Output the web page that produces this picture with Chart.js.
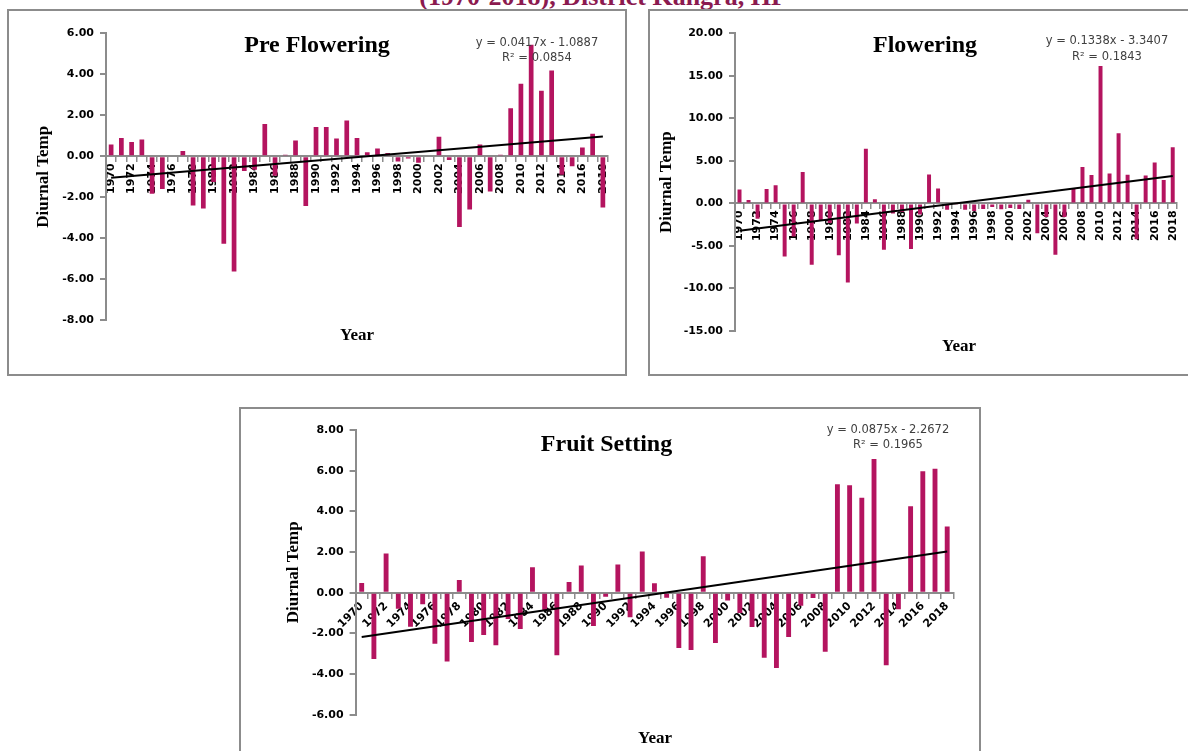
<!DOCTYPE html>
<html>
<head>
<meta charset="utf-8">
<script src="https://cdn.jsdelivr.net/npm/chart.js@4.4.0/dist/chart.umd.min.js"></script>
<style>
  html, body { margin: 0; padding: 0; background: #fff; }
  body { position: relative; width: 1188px; height: 751px; overflow: hidden; }
  .hdr { position: absolute; left: 0; top: -16px; width: 1206px; text-align: center;
         font-family: "Liberation Serif", serif; font-weight: bold; font-size: 26px; line-height: 26px;
         color: #8b1a4f; white-space: nowrap; }
  .box { position: absolute; box-sizing: border-box; border: 2px solid #8c8c8c; background: #fff; }
  canvas { position: absolute; }
</style>
</head>
<body>
<div class="hdr">(1970-2018), District Kangra, HP</div>
<div class="box" style="left:7px;top:9px;width:620px;height:367px"></div>
<div class="box" style="left:648px;top:9px;width:542px;height:367px"></div>
<div class="box" style="left:239px;top:407px;width:742px;height:360px"></div>
<canvas id="c1" width="619" height="365" style="left:7px;top:10px"></canvas>
<canvas id="c2" width="540" height="365" style="left:648px;top:10px"></canvas>
<canvas id="c3" width="740" height="343" style="left:240px;top:408px"></canvas>
<script>
// ---------- DATA ----------
const years = ['1970','1971','1972','1973','1974','1975','1976','1977','1978','1979',
               '1980','1981','1982','1983','1984','1985','1986','1987','1988','1989',
               '1990','1991','1992','1993','1994','1995','1996','1997','1998','1999',
               '2000','2001','2002','2003','2004','2005','2006','2007','2008','2009',
               '2010','2011','2012','2013','2014','2015','2016','2017','2018'];

const preFlowering = [0.57, 0.89, 0.70, 0.82, -1.83, -1.60, 0.00, 0.26, -2.40, -2.55,
                      -1.25, -4.26, -5.62, -0.72, -0.65, 1.57, -0.95, 0.07, 0.77, -2.42,
                      1.43, 1.43, 0.87, 1.75, 0.89, 0.20, 0.38, 0.16, -0.25, -0.11,
                      -0.31, 0.00, 0.95, -0.18, -3.45, -2.60, 0.57, -1.72, 0.08, 2.34,
                      3.54, 5.44, 3.20, 4.18, -0.90, -0.48, 0.43, 1.10, -2.50];

const flowering = [1.65, 0.40, -1.80, 1.68, 2.15, -6.25, -3.90, 3.70, -7.20, -1.95,
                   -2.30, -6.10, -9.30, -2.35, 6.43, 0.50, -5.45, -1.20, -1.00, -5.35,
                   -1.30, 3.41, 1.76, -0.75, -0.10, -0.75, -0.90, -0.67, -0.43, -0.70,
                   -0.55, -0.67, 0.43, -3.50, -1.60, -6.04, -1.60, 1.73, 4.27, 3.33,
                   16.16, 3.53, 8.24, 3.37, -4.20, 3.29, 4.82, 2.75, 6.59];

const fruitSetting = [0.48, -3.26, 1.93, -0.79, -1.67, -0.57, -2.51, -3.39, 0.62, -2.43,
                      -2.08, -2.59, -1.30, -1.79, 1.25, -0.85, -3.08, 0.52, 1.34, -1.64,
                      -0.20, 1.38, -1.21, 2.02, 0.46, -0.25, -2.72, -2.82, 1.79, -2.48,
                      -0.38, -1.00, -1.69, -3.20, -3.70, -2.18, -0.64, -0.26, -2.90, 5.33,
                      5.28, 4.67, 6.57, -3.57, -0.82, 4.25, 5.97, 6.10, 3.26];

// trend line end values (first year, last year)
const trendPre = [-1.05, 0.96];
const trendFlow = [-3.21, 3.22];
const trendFruit = [-2.18, 2.02];

const eqPre = ['y = 0.0417x - 1.0887', 'R\u00B2 = 0.0854'];
const eqFlow = ['y = 0.1338x - 3.3407', 'R\u00B2 = 0.1843'];
const eqFruit = ['y = 0.0875x - 2.2672', 'R\u00B2 = 0.1965'];

const yTicksPre = { min: -8, max: 6, step: 2 };
const yTicksFlow = { min: -15, max: 20, step: 5 };
const yTicksFruit = { min: -6, max: 8, step: 2 };

// ---------- STYLE ----------
const BAR = '#b4145f';
const AXIS = '#8c8c8c';
const SANS = '"DejaVu Sans", sans-serif';
const SERIF = '"Liberation Serif", serif';

const textPlugin = {
  id: 'chartTexts',
  afterDraw(chart, args, opts) {
    const ctx = chart.ctx;
    (opts.items || []).forEach(t => {
      ctx.save();
      ctx.font = t.font;
      ctx.fillStyle = t.color || '#000';
      ctx.textAlign = 'center';
      ctx.textBaseline = t.baseline || 'alphabetic';
      ctx.fillText(t.text, t.x, t.y);
      ctx.restore();
    });
  }
};

function trendSeries(ends) {
  const arr = years.map(() => null);
  arr[0] = ends[0];
  arr[arr.length - 1] = ends[1];
  return arr;
}

function makeChart(id, values, trend, yt, cfg) {
  return new Chart(document.getElementById(id), {
    type: 'bar',
    data: {
      labels: years,
      datasets: [
        { type: 'line', data: trendSeries(trend), borderColor: '#000', borderWidth: 2,
          pointRadius: 0, spanGaps: true, fill: false, order: 0 },
        { type: 'bar', data: values, backgroundColor: BAR, barPercentage: cfg.barPct,
          categoryPercentage: 1, order: 1 }
      ]
    },
    options: {
      responsive: false,
      animation: false,
      devicePixelRatio: 1,
      layout: { padding: { left: 0, top: cfg.pad[0], right: cfg.pad[1], bottom: cfg.pad[2] } },
      plugins: {
        legend: { display: false },
        tooltip: { enabled: false },
        chartTexts: { items: cfg.texts }
      },
      scales: {
        x: {
          position: { y: 0 },
          z: 1,
          offset: true,
          grid: { display: true, drawOnChartArea: false, drawTicks: true, tickLength: 5,
                  color: AXIS, lineWidth: 1.5, offset: true },
          border: { display: true, color: AXIS, width: 2 },
          ticks: {
            autoSkip: false, maxRotation: cfg.rot, minRotation: cfg.rot, padding: 2,
            color: '#000', font: { family: SANS, size: 11, weight: 'bold' },
            callback: function (v, i) { return i % 2 === 0 ? this.getLabelForValue(v) : ''; }
          }
        },
        y: {
          min: yt.min, max: yt.max,
          afterFit: s => { s.width = cfg.yWidth; },
          grid: { drawOnChartArea: false, drawTicks: true, tickLength: 6, color: AXIS, lineWidth: 2 },
          border: { display: true, color: AXIS, width: 2 },
          ticks: { stepSize: yt.step, padding: 6, color: '#000',
                   font: { family: SANS, size: 11, weight: 'bold' },
                   callback: v => Number(v).toFixed(2) },
          title: { display: true, text: 'Diurnal Temp', color: '#000',
                   font: { family: SERIF, size: 17, weight: 'bold' },
                   padding: { top: cfg.titlePad, bottom: 0 } }
        }
      }
    },
    plugins: [textPlugin]
  });
}

const TITLE_FONT = 'bold 24px ' + SERIF;
const EQ_FONT = '11.5px ' + SANS;
const YEAR_FONT = 'bold 17px ' + SERIF;

makeChart('c1', preFlowering, trendPre, yTicksPre, {
  barPct: 0.46, rot: 90, yWidth: 99, pad: [23.3, 18, 54.7], titlePad: 26.8,
  texts: [
    { text: 'Pre Flowering', x: 310, y: 42, font: TITLE_FONT },
    { text: eqPre[0], x: 530, y: 33, font: EQ_FONT, color: '#404040', baseline: 'middle' },
    { text: eqPre[1], x: 530, y: 48.5, font: EQ_FONT, color: '#404040', baseline: 'middle' },
    { text: 'Year', x: 350, y: 326, font: YEAR_FONT, baseline: 'middle' }
  ]
});

makeChart('c2', flowering, trendFlow, yTicksFlow, {
  barPct: 0.44, rot: 90, yWidth: 87, pad: [23.3, 7.5, 44], titlePad: 8.5,
  texts: [
    { text: 'Flowering', x: 277, y: 42, font: TITLE_FONT },
    { text: eqFlow[0], x: 459, y: 31.5, font: EQ_FONT, color: '#404040', baseline: 'middle' },
    { text: eqFlow[1], x: 459, y: 47, font: EQ_FONT, color: '#404040', baseline: 'middle' },
    { text: 'Year', x: 311, y: 337, font: YEAR_FONT, baseline: 'middle' }
  ]
});

makeChart('c3', fruitSetting, trendFruit, yTicksFruit, {
  barPct: 0.40, rot: 45, yWidth: 115.6, pad: [22, 26.7, 36.3], titlePad: 43.1,
  texts: [
    { text: 'Fruit Setting', x: 366.5, y: 42.7, font: TITLE_FONT },
    { text: eqFruit[0], x: 648, y: 22, font: EQ_FONT, color: '#404040', baseline: 'middle' },
    { text: eqFruit[1], x: 648, y: 37, font: EQ_FONT, color: '#404040', baseline: 'middle' },
    { text: 'Year', x: 415, y: 331, font: YEAR_FONT, baseline: 'middle' }
  ]
});
</script>
</body>
</html>
